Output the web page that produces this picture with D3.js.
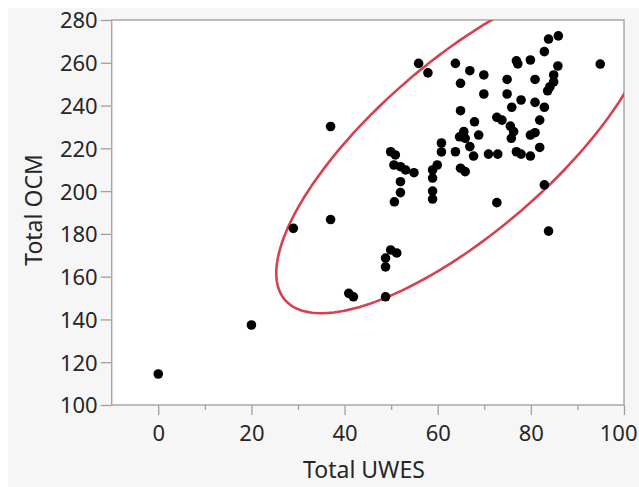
<!DOCTYPE html>
<html>
<head>
<meta charset="utf-8">
<script src="https://cdnjs.cloudflare.com/ajax/libs/d3/7.8.5/d3.min.js"></script>
<style>
  html, body { margin: 0; padding: 0; background: #ffffff; }
  svg { display: block; }
  text { font-family: "Noto Sans", "Open Sans", sans-serif; fill: #262626; }
</style>
</head>
<body>
<div id="chart"></div>
<script>
// Total UWES (x) vs Total OCM (y)
var uwes = [
  0, 20, 29, 37, 37, 40.9, 41.9, 48.8, 48.8, 48.8, 49.9, 51.2, 55.9, 57.9,
  49.9, 50.9, 50.6, 52, 53.1, 54.9, 52, 52, 50.7,
  60.8, 60.8, 59.9, 58.9, 58.9, 58.9, 58.9,
  63.8, 66.9, 69.9, 64.9, 69.9, 74.9, 76.9, 77.2, 79.9, 82.9, 83.8, 85.9, 94.9,
  85.8, 84.9, 84.9, 84.1, 83.6, 80.9, 74.9, 77.9, 75.9, 80.9, 82.9, 81.9,
  64.9, 67.9, 72.7, 73.8, 75.6, 76.3, 75.8, 79.9, 80.9, 65.6, 64.7, 65.9, 68.8,
  66.9, 67.7, 63.8, 70.9, 72.9, 76.9, 77.9, 79.9, 81.9, 64.9, 65.9, 72.7, 82.9, 83.8
];
var ocm = [
  114.5, 137.4, 182.6, 230.2, 186.7, 152.2, 150.6, 150.6, 164.6, 168.7, 172.5, 171.1, 259.7, 255.3,
  218.4, 216.9, 212.2, 211.4, 209.9, 208.6, 204.4, 199.3, 195,
  222.5, 218.3, 212.2, 209.9, 206.1, 200, 196.3,
  259.7, 256.3, 254.3, 250.4, 245.4, 252.2, 260.9, 259.5, 261.3, 265.2, 271.1, 272.6, 259.4,
  258.5, 254.3, 251.1, 248.8, 246.9, 252.2, 245.4, 242.6, 239.2, 241.5, 239.2, 233.2,
  237.6, 232.4, 234.5, 233.2, 230.4, 227.8, 224.7, 226.2, 227.3, 227.8, 225.4, 224.7, 226.2,
  220.8, 216.4, 218.4, 217.3, 217.3, 218.4, 217.3, 216.4, 220.4, 210.7, 209.1, 194.6, 202.9, 181.3
];

// bivariate normal density ellipse (95%)
var ellipseMean = [65.6, 221];
var ellipseSD = [16.45, 31.9];
var ellipseCorr = 0.76;
var ellipseLevel = 0.95;

var xTicks = [0, 20, 40, 60, 80, 100];
var xMinorTicks = [10, 30, 50, 70, 90];
var yTicks = [100, 120, 140, 160, 180, 200, 220, 240, 260, 280];

var width = 639;
var height = 487;

var svg = d3.select("#chart").append("svg")
  .attr("width", width)
  .attr("height", height);

// grey panel behind the plot
svg.append("rect")
  .attr("x", 8)
  .attr("y", 8)
  .attr("width", width - 8)
  .attr("height", height - 8)
  .attr("fill", "#f6f6f6");

var x = d3.scaleLinear().domain([-10, 100]).range([111.7, 624]);
var y = d3.scaleLinear().domain([100, 280]).range([405, 20]);

svg.append("rect")
  .attr("x", x(-10))
  .attr("y", y(280))
  .attr("width", x(100) - x(-10))
  .attr("height", y(100) - y(280))
  .attr("fill", "#ffffff");

svg.append("clipPath")
  .attr("id", "plot-clip")
  .append("rect")
  .attr("x", x(-10))
  .attr("y", y(280))
  .attr("width", x(100) - x(-10))
  .attr("height", y(100) - y(280));

// axes
var xAxis = svg.append("g")
  .attr("class", "x-axis")
  .attr("transform", "translate(0," + y(100) + ")")
  .call(d3.axisBottom(x).tickValues(xTicks).tickSize(10).tickPadding(6).tickFormat(d3.format("d")));

svg.append("g")
  .attr("class", "x-minor")
  .attr("transform", "translate(0," + y(100) + ")")
  .call(d3.axisBottom(x).tickValues(xMinorTicks).tickSize(5).tickFormat(""));

var yAxis = svg.append("g")
  .attr("class", "y-axis")
  .attr("transform", "translate(" + x(-10) + ",0)")
  .call(d3.axisLeft(y).tickValues(yTicks).tickSize(11).tickPadding(3).tickFormat(d3.format("d")));

svg.selectAll(".domain").remove();
svg.selectAll(".tick line").attr("stroke", "#a0a0a0").attr("stroke-width", 1.3);
svg.selectAll(".tick text")
  .attr("font-size", "22px")
  .attr("fill", "#262626")
  .style("font-family", "'Noto Sans', 'Open Sans', sans-serif");
xAxis.selectAll(".tick text").attr("dy", "0.9em");
yAxis.selectAll(".tick text").attr("dy", "0.36em");

// last x label is pulled in so it stays inside the window
xAxis.selectAll(".tick text")
  .filter(function (d) { return d === 100 })
  .attr("text-anchor", "end")
  .attr("x", 13);

// frame
svg.append("rect")
  .attr("x", x(-10))
  .attr("y", y(280))
  .attr("width", x(100) - x(-10))
  .attr("height", y(100) - y(280))
  .attr("fill", "none")
  .attr("stroke", "#a8a8a8")
  .attr("stroke-width", 1.5);

// ellipse points from mean, sd, correlation
var c = Math.sqrt(-2 * Math.log(1 - ellipseLevel));
var ellipsePts = d3.range(0, 361, 2).map(function (deg) {
  var t = deg * Math.PI / 180;
  var ex = ellipseMean[0] + c * ellipseSD[0] * Math.cos(t);
  var ey = ellipseMean[1] + c * ellipseSD[1] *
    (ellipseCorr * Math.cos(t) + Math.sqrt(1 - ellipseCorr * ellipseCorr) * Math.sin(t));
  return [ex, ey];
});

var line = d3.line()
  .x(function (d) { return x(d[0]) })
  .y(function (d) { return y(d[1]) })
  .curve(d3.curveLinearClosed);

var plot = svg.append("g").attr("clip-path", "url(#plot-clip)");

plot.append("path")
  .datum(ellipsePts)
  .attr("d", line)
  .attr("fill", "none")
  .attr("stroke", "#d5414f")
  .attr("stroke-width", 2.6);

plot.selectAll(".dot")
  .data(d3.zip(uwes, ocm))
  .enter()
  .append("circle")
  .attr("class", "dot")
  .attr("cx", function (d) { return x(d[0]) })
  .attr("cy", function (d) { return y(d[1]) })
  .attr("r", 4.8)
  .attr("fill", "#000000");

// axis titles
svg.append("text")
  .attr("x", 364)
  .attr("y", 478)
  .attr("text-anchor", "middle")
  .attr("font-size", "23px")
  .text("Total UWES");

svg.append("text")
  .attr("transform", "translate(42," + 210 + ") rotate(-90)")
  .attr("text-anchor", "middle")
  .attr("font-size", "23px")
  .text("Total OCM");
</script>
</body>
</html>
